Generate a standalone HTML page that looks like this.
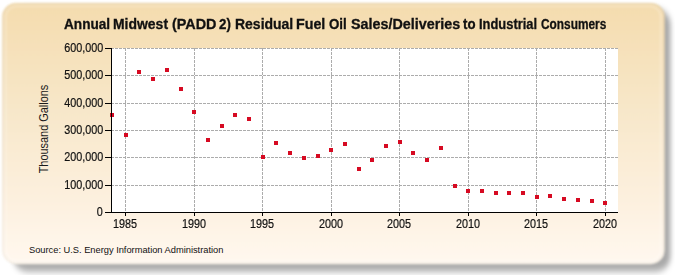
<!DOCTYPE html>
<html><head><meta charset="utf-8"><style>
html,body{margin:0;padding:0;background:#fff;width:675px;height:275px;overflow:hidden;position:relative}
body{font-family:"Liberation Sans",sans-serif;color:#1a1a1a}
.tw{position:absolute;top:16px;font-weight:bold;font-size:14px;line-height:16px;color:#111;white-space:nowrap;-webkit-text-stroke:0.3px #111;transform-origin:0 0}
.yl{position:absolute;right:572px;font-size:12px;line-height:14px;text-align:right;white-space:nowrap;color:#111;-webkit-text-stroke:0.2px #111;transform:scaleX(0.9);transform-origin:100% 50%}
.xl{position:absolute;top:216.5px;width:40px;font-size:12px;line-height:14px;text-align:center;color:#111;-webkit-text-stroke:0.2px #111;transform:scaleX(0.9)}
.ytitle{position:absolute;left:44px;top:128.7px;font-size:12px;line-height:12px;white-space:nowrap;transform:translate(-50%,-50%) rotate(-90deg) scaleX(0.91);color:#1a1a1a}
.src{position:absolute;left:29px;top:243.5px;font-size:9.3px;line-height:12px;white-space:nowrap;color:#111;letter-spacing:-0.01px}
svg{position:absolute;left:0;top:0}
</style></head><body>
<svg width="675" height="275" style="position:absolute;left:0;top:0">
<defs>
<linearGradient id="pg" x1="0" y1="0" x2="0" y2="1">
<stop offset="0" stop-color="#f4dcae"/>
<stop offset="0.45" stop-color="#f8e8cc"/>
<stop offset="0.78" stop-color="#fdf1e0"/>
<stop offset="1" stop-color="#fff8ef"/>
</linearGradient>
<filter id="shf" x="-10%" y="-10%" width="120%" height="120%"><feGaussianBlur stdDeviation="2.5 3.5"/></filter>
<filter id="pf" x="-10%" y="-10%" width="120%" height="120%"><feGaussianBlur stdDeviation="0.9"/></filter>
</defs>
<rect x="13" y="9" width="657.5" height="262.5" rx="15" fill="#000" fill-opacity="0.34" filter="url(#shf)"/>
<rect x="2.2" y="3" width="662.5" height="261.2" rx="14" fill="url(#pg)" filter="url(#pf)"/>
<rect x="3.2" y="4" width="660.5" height="259.2" rx="13" fill="none" stroke="#8a8070" stroke-opacity="0.12" stroke-width="1.2" filter="url(#pf)"/>
<rect x="5.5" y="6" width="655.5" height="255" rx="11" fill="none" stroke="#fff" stroke-opacity="0.2" stroke-width="2.5" filter="url(#pf)"/>
</svg>
<span class="tw" style="left:63.60px;transform:scaleX(0.9723)">Annual</span>
<span class="tw" style="left:112.90px;transform:scaleX(0.9963)">Midwest</span>
<span class="tw" style="left:171.90px;transform:scaleX(1.0279)">(PADD</span>
<span class="tw" style="left:219.10px;transform:scaleX(0.9500)">2)</span>
<span class="tw" style="left:234.50px;transform:scaleX(0.9982)">Residual</span>
<span class="tw" style="left:295.88px;transform:scaleX(1.0185)">Fuel</span>
<span class="tw" style="left:328.90px;transform:scaleX(0.9500)">Oil</span>
<span class="tw" style="left:350.70px;transform:scaleX(1.0236)">Sales/Deliveries</span>
<span class="tw" style="left:462.80px;transform:scaleX(0.9462)">to</span>
<span class="tw" style="left:479.18px;transform:scaleX(0.9213)">Industrial</span>
<span class="tw" style="left:541.00px;transform:scaleX(0.8468)">Consumers</span>
<svg width="675" height="275" viewBox="0 0 675 275">
<rect x="111" y="48" width="507" height="164" fill="#fff"/>
<g stroke="#acacac" stroke-width="1" stroke-dasharray="3 1" shape-rendering="crispEdges">
<line x1="111" y1="185.5" x2="618" y2="185.5"/>
<line x1="111" y1="157.5" x2="618" y2="157.5"/>
<line x1="111" y1="130.5" x2="618" y2="130.5"/>
<line x1="111" y1="103.5" x2="618" y2="103.5"/>
<line x1="111" y1="75.5" x2="618" y2="75.5"/>
<line x1="111" y1="48.5" x2="618" y2="48.5"/>
<line x1="125.5" y1="48" x2="125.5" y2="212"/>
<line x1="194.5" y1="48" x2="194.5" y2="212"/>
<line x1="262.5" y1="48" x2="262.5" y2="212"/>
<line x1="331.5" y1="48" x2="331.5" y2="212"/>
<line x1="399.5" y1="48" x2="399.5" y2="212"/>
<line x1="468.5" y1="48" x2="468.5" y2="212"/>
<line x1="536.5" y1="48" x2="536.5" y2="212"/>
<line x1="605.5" y1="48" x2="605.5" y2="212"/>
</g>

<g fill="#d60a22" shape-rendering="crispEdges">
<rect x="110" y="113" width="4" height="4"/>
<rect x="124" y="133" width="4" height="4"/>
<rect x="137" y="70" width="4" height="4"/>
<rect x="151" y="77" width="4" height="4"/>
<rect x="165" y="68" width="4" height="4"/>
<rect x="179" y="87" width="4" height="4"/>
<rect x="192" y="110" width="4" height="4"/>
<rect x="206" y="138" width="4" height="4"/>
<rect x="220" y="124" width="4" height="4"/>
<rect x="233" y="113" width="4" height="4"/>
<rect x="247" y="117" width="4" height="4"/>
<rect x="261" y="155" width="4" height="4"/>
<rect x="274" y="141" width="4" height="4"/>
<rect x="288" y="151" width="4" height="4"/>
<rect x="302" y="156" width="4" height="4"/>
<rect x="316" y="154" width="4" height="4"/>
<rect x="329" y="148" width="4" height="4"/>
<rect x="343" y="142" width="4" height="4"/>
<rect x="357" y="167" width="4" height="4"/>
<rect x="370" y="158" width="4" height="4"/>
<rect x="384" y="144" width="4" height="4"/>
<rect x="398" y="140" width="4" height="4"/>
<rect x="411" y="151" width="4" height="4"/>
<rect x="425" y="158" width="4" height="4"/>
<rect x="439" y="146" width="4" height="4"/>
<rect x="453" y="184" width="4" height="4"/>
<rect x="466" y="189" width="4" height="4"/>
<rect x="480" y="189" width="4" height="4"/>
<rect x="494" y="191" width="4" height="4"/>
<rect x="507" y="191" width="4" height="4"/>
<rect x="521" y="191" width="4" height="4"/>
<rect x="535" y="195" width="4" height="4"/>
<rect x="548" y="194" width="4" height="4"/>
<rect x="562" y="197" width="4" height="4"/>
<rect x="576" y="198" width="4" height="4"/>
<rect x="590" y="199" width="4" height="4"/>
<rect x="603" y="201" width="4" height="4"/>
</g>
<g stroke="#000" stroke-width="1" shape-rendering="crispEdges">
<line x1="105" y1="212.5" x2="111" y2="212.5"/>
<line x1="105" y1="185.5" x2="111" y2="185.5"/>
<line x1="105" y1="157.5" x2="111" y2="157.5"/>
<line x1="105" y1="130.5" x2="111" y2="130.5"/>
<line x1="105" y1="103.5" x2="111" y2="103.5"/>
<line x1="105" y1="75.5" x2="111" y2="75.5"/>
<line x1="105" y1="48.5" x2="111" y2="48.5"/>
<line x1="125.5" y1="212" x2="125.5" y2="216"/>
<line x1="194.5" y1="212" x2="194.5" y2="216"/>
<line x1="262.5" y1="212" x2="262.5" y2="216"/>
<line x1="331.5" y1="212" x2="331.5" y2="216"/>
<line x1="399.5" y1="212" x2="399.5" y2="216"/>
<line x1="468.5" y1="212" x2="468.5" y2="216"/>
<line x1="536.5" y1="212" x2="536.5" y2="216"/>
<line x1="605.5" y1="212" x2="605.5" y2="216"/>
<line x1="111.5" y1="48" x2="111.5" y2="213"/>
<line x1="111" y1="212.5" x2="618" y2="212.5"/>
</g>
</svg>
<div class="yl" style="top:204.5px">0</div>
<div class="yl" style="top:177.5px">100,000</div>
<div class="yl" style="top:149.5px">200,000</div>
<div class="yl" style="top:122.5px">300,000</div>
<div class="yl" style="top:95.5px">400,000</div>
<div class="yl" style="top:67.5px">500,000</div>
<div class="yl" style="top:40.5px">600,000</div>
<div class="xl" style="left:104.7px">1985</div>
<div class="xl" style="left:173.7px">1990</div>
<div class="xl" style="left:241.7px">1995</div>
<div class="xl" style="left:310.7px">2000</div>
<div class="xl" style="left:378.7px">2005</div>
<div class="xl" style="left:447.7px">2010</div>
<div class="xl" style="left:515.7px">2015</div>
<div class="xl" style="left:584.7px">2020</div>
<div class="ytitle">Thousand Gallons</div>
<div class="src">Source: U.S. Energy Information Administration</div>
</body></html>
